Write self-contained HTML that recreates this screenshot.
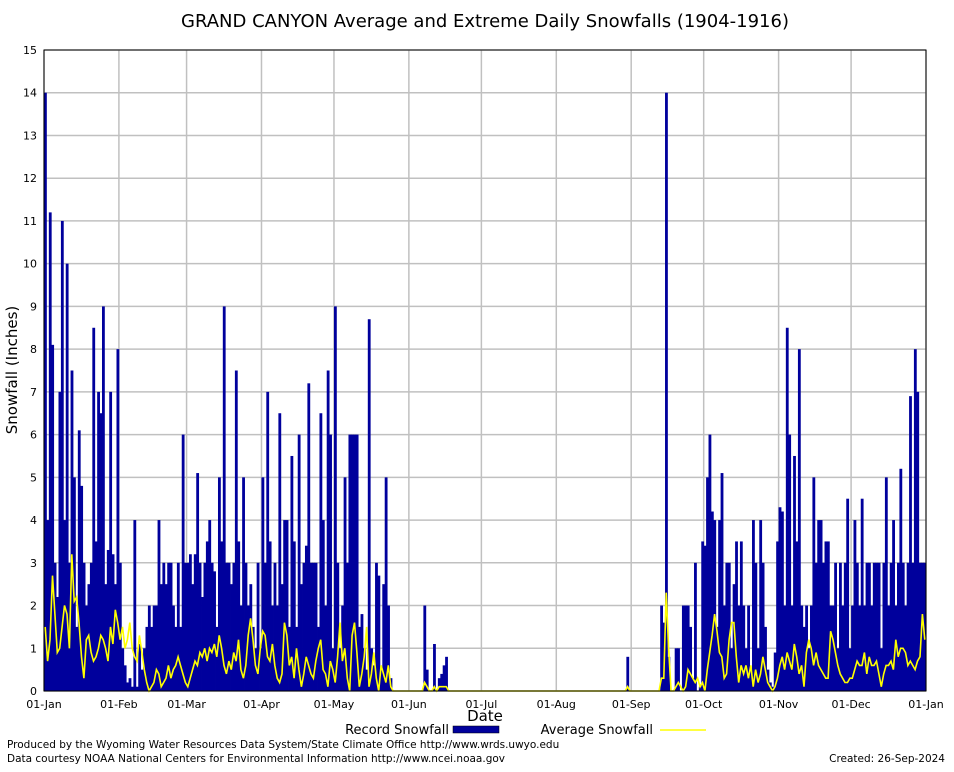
<!DOCTYPE html>
<html><head><meta charset="utf-8"><style>
body{margin:0;background:#fff;font-family:"DejaVu Sans",sans-serif}
svg text{font-family:"DejaVu Sans",sans-serif}
</style></head><body>
<svg id="c" width="954" height="768" xmlns="http://www.w3.org/2000/svg">
<rect width="954" height="768" fill="#fff"/>
<text x="485" y="27" font-size="18" text-anchor="middle">GRAND CANYON Average and Extreme Daily Snowfalls (1904-1916)</text>
<g id="grid"></g>
<g id="bars"></g>
<g id="avg"></g>
<g id="axes"></g>
<text x="17" y="370" font-size="15" text-anchor="middle" transform="rotate(-90 17 370)">Snowfall (Inches)</text>
<text x="485" y="721" font-size="15" text-anchor="middle">Date</text>
<g>
<text x="449" y="734" font-size="13" text-anchor="end">Record Snowfall</text>
<rect x="453" y="726" width="46" height="7" fill="#00009c" stroke="#000" stroke-width="0.5"/>
<text x="653" y="734" font-size="13" text-anchor="end">Average Snowfall</text>
<line x1="660" y1="730" x2="706" y2="730" stroke="#ffff00" stroke-width="1.5"/>
</g>
<text x="7" y="748" font-size="10.5">Produced by the Wyoming Water Resources Data System/State Climate Office http://www.wrds.uwyo.edu</text>
<text x="7" y="762" font-size="10.5">Data courtesy NOAA National Centers for Environmental Information http://www.ncei.noaa.gov</text>
<text x="945" y="762" font-size="10.5" text-anchor="end">Created:  26-Sep-2024</text>
</svg>
<script>
const monthLabels=["01-Jan","01-Feb","01-Mar","01-Apr","01-May","01-Jun","01-Jul","01-Aug","01-Sep","01-Oct","01-Nov","01-Dec","01-Jan"];
const monthDays=[31,28,31,30,31,30,31,31,30,31,30,31];
const yTicks=[0,1,2,3,4,5,6,7,8,9,10,11,12,13,14,15];
const recJan=[14,4,11.2,8.1,3,2.2,7,11,4,10,3,7.5,5,1.5,6.1,4.8,3,2,2.5,3,8.5,3.5,7,6.5,9,2.5,3.3,7,3.2,2.5,8];
const recFeb=[3,1,0.6,0.2,0.3,0.1,4,0.1,1.1,0.5,1,1.5,2,1.5,2,2,4,2.5,3,2.5,3,3,2,1.5,3,1.5,6,3];
const recMar=[3,3.2,2.5,3.2,5.1,3,2.2,3,3.5,4,3,2.8,1.5,5,3.5,9,3,3,2.5,3,7.5,3.5,2,5,3,2,2.5,1.5,1,3,1];
const recApr=[5,3,7,3.5,2,3,2,6.5,2.5,4,4,1.5,5.5,3.5,1.5,6,2.5,3,3.4,7.2,3,3,3,1.5,6.5,4,2,7.5,6,1];
const recMay=[9,3,1,2,5,3,6,6,6,6,1.5,1.8,1,0.5,8.7,1,0.6,3,2.7,0.5,2.5,5,2,0.3,0,0,0,0,0,0,0];
const recJun=[0,0,0,0,0,0,2,0.5,0,0,1.1,0,0.3,0.4,0.6,0.8,0,0,0,0,0,0,0,0,0,0,0,0,0,0];
const recJul=[0,0,0,0,0,0,0,0,0,0,0,0,0,0,0,0,0,0,0,0,0,0,0,0,0,0,0,0,0,0,0];
const recAug=[0,0,0,0,0,0,0,0,0,0,0,0,0,0,0,0,0,0,0,0,0,0,0,0,0,0,0,0,0,0.8,0];
const recSep=[0,0,0,0,0,0,0,0,0,0,0,0,2,1.6,14,0.8,0,0,1,1,0,2,2,2,1.5,0.3,3,0,0.1,3.5];
const recOct=[3.4,5,6,4.2,4,1.5,4,5.1,2,3,3,1,2.5,3.5,2,3.5,2,1,2,0.5,4,3,1,4,3,1.5,0.5,0.2,0.1,0.9,3.5];
const recNov=[4.3,4.2,2,8.5,6,2,5.5,3.5,8,2,1.5,2,1,2,5,3,4,4,3,3.5,3.5,2,2,3,1,3,2,3,4.5,1];
const recDec=[2,4,3,2,4.5,2,3,3,2,3,3,3,1,3,5,2,3,4,2,3,5.2,3,2,3,6.9,3,8,7,3,3,3];
const avgJan=[1.5,0.7,1.2,2.7,1.8,0.9,1.0,1.5,2.0,1.8,1.0,3.2,2.1,2.2,1.6,0.8,0.3,1.2,1.3,0.9,0.7,0.8,1.0,1.3,1.2,1.0,0.7,1.5,1.1,1.9,1.6];
const avgFeb=[1.2,1.5,1.0,1.2,1.6,1.0,0.8,0.7,1.3,0.9,0.5,0.2,0.0,0.1,0.2,0.5,0.4,0.1,0.2,0.3,0.6,0.3,0.5,0.6,0.8,0.6,0.4,0.2];
const avgMar=[0.1,0.3,0.5,0.7,0.6,0.9,0.8,1.0,0.7,1.0,0.9,1.1,0.8,1.3,1.0,0.6,0.4,0.7,0.5,0.9,0.7,1.2,0.5,0.3,0.6,1.3,1.7,1.2,0.6,0.4,1.0];
const avgApr=[1.4,1.3,0.8,0.7,1.1,0.6,0.3,0.2,0.4,1.6,1.3,0.6,0.8,0.3,1.0,0.5,0.1,0.4,0.8,0.6,0.4,0.3,0.7,1.0,1.2,0.5,0.4,0.1,0.7,0.5];
const avgMay=[0.2,0.8,1.6,0.7,1.0,0.3,0.0,1.3,1.6,0.9,0.1,0.4,0.8,1.5,0.1,0.4,0.9,0.3,0.0,0.6,0.4,0.2,0.6,0.1,0,0,0,0,0,0,0];
const avgJun=[0,0,0,0,0,0,0.2,0.1,0,0,0.1,0,0.1,0.1,0.1,0.1,0,0,0,0,0,0,0,0,0,0,0,0,0,0];
const avgJul=[0,0,0,0,0,0,0,0,0,0,0,0,0,0,0,0,0,0,0,0,0,0,0,0,0,0,0,0,0,0,0];
const avgAug=[0,0,0,0,0,0,0,0,0,0,0,0,0,0,0,0,0,0,0,0,0,0,0,0,0,0,0,0,0,0.1,0];
const avgSep=[0,0,0,0,0,0,0,0,0,0,0,0,0.3,0.3,2.3,1.0,0,0,0.1,0.2,0.1,0,0.1,0.5,0.4,0.3,0.2,0.3,0.1,0.2];
const avgOct=[0,0.5,0.9,1.3,1.8,1.4,0.9,0.8,0.3,0.4,1.2,1.6,1.6,0.8,0.2,0.6,0.4,0.6,0.3,0.6,0.1,0.5,0.2,0.4,0.8,0.5,0.2,0.1,0.0,0.1,0.3];
const avgNov=[0.6,0.8,0.5,0.9,0.7,0.5,1.1,0.8,0.4,0.6,0.1,0.9,1.2,1.0,0.6,0.9,0.6,0.5,0.4,0.3,0.3,1.4,1.2,0.9,0.6,0.4,0.3,0.2,0.2,0.3];
const avgDec=[0.3,0.5,0.7,0.6,0.6,0.9,0.4,0.8,0.6,0.6,0.7,0.4,0.1,0.4,0.6,0.6,0.7,0.5,1.2,0.8,1.0,1.0,0.9,0.6,0.7,0.6,0.5,0.7,0.8,1.8,1.2];

const record=[].concat(recJan,recFeb,recMar,recApr,recMay,recJun,recJul,recAug,recSep,recOct,recNov,recDec);
const average=[].concat(avgJan,avgFeb,avgMar,avgApr,avgMay,avgJun,avgJul,avgAug,avgSep,avgOct,avgNov,avgDec);
const NS="http://www.w3.org/2000/svg";
const X0=44,X1=926,Y0=691,Y1=50,N=365,YMAX=15;
const xs=d=>X0+(X1-X0)*d/N;
const ys=v=>Y0-(Y0-Y1)*v/YMAX;
function mk(t,a,p){const e=document.createElementNS(NS,t);for(const k in a)e.setAttribute(k,a[k]);p.appendChild(e);return e;}
const grid=document.getElementById('grid'),axes=document.getElementById('axes');
yTicks.forEach(v=>{
  const l=mk('line',{x1:X0,x2:X1,y1:ys(v),y2:ys(v),stroke:'#c0c0c0','stroke-width':1.5},grid);
  
  
  const t=mk('text',{x:37,y:ys(v)+4,'font-size':11,'text-anchor':'end'},axes);
  t.textContent=v;
  
  
});
let cum=0;
monthLabels.forEach((lab,i)=>{
  const x=xs(cum);
  const l=mk('line',{x1:x,x2:x,y1:Y1,y2:Y0,stroke:'#c0c0c0','stroke-width':1.5},grid);
  
  
  const t=mk('text',{x:x,y:708,'font-size':11,'text-anchor':'middle'},axes);
  t.textContent=lab;
  
  
  if(i<monthDays.length)cum+=monthDays[i];
});
const bars=document.getElementById('bars');
const w=(X1-X0)/N;
record.forEach((v,d)=>{
  if(v<=0)return;
  const r=mk('rect',{x:xs(d),y:ys(v),width:w+0.4,height:Y0-ys(v),fill:'#00009c'},bars);
  
  
});
let pts=average.map((v,d)=>(xs(d+0.5)).toFixed(1)+','+ys(v).toFixed(1)).join(' ');
const pl=mk('polyline',{points:pts,fill:'none',stroke:'#ffff00','stroke-width':1.6},document.getElementById('avg'));


const fr=mk('rect',{x:X0,y:Y1,width:X1-X0,height:Y0-Y1,fill:'none',stroke:'#000','stroke-width':1},axes);


</script>
</body></html>
